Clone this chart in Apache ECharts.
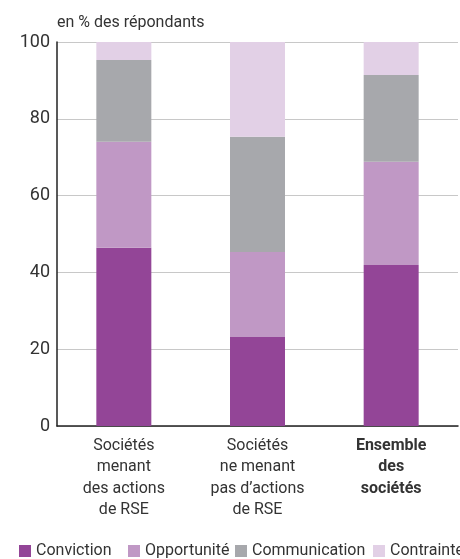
<!DOCTYPE html>
<html><head><meta charset="utf-8">
<script src="https://cdn.jsdelivr.net/npm/echarts@6/dist/echarts.min.js"></script>
<style>html,body{margin:0;padding:0;background:#fff}#c{width:460px;height:559px}</style>
</head><body><div id="c"></div>
<script>
var categories = ['Sociétés\nmenant\ndes actions\nde RSE', 'Sociétés\nne menant\npas d\u2019actions\nde RSE', 'Ensemble\ndes\nsociétés'];
var seriesNames = ['Conviction', 'Opportunité', 'Communication', 'Contrainte'];
var conviction = [46.4, 23.2, 41.9];
var opportunite = [27.6, 22.1, 26.9];
var communication = [21.3, 30.0, 22.6];
var contrainte = [4.7, 24.7, 8.6];
var yTicks = [0, 20, 40, 60, 80, 100];

var colors = ['#934597', '#C098C5', '#A7A8AC', '#E2D0E6'];
var values = [conviction, opportunite, communication, contrainte];
var FONT = 'Roboto, sans-serif';
var legendLefts = [19, 128, 235, 373];

var chart = echarts.init(document.getElementById('c'), null, {renderer: 'canvas'});
chart.setOption({
  animation: false,
  textStyle: {fontFamily: FONT},
  title: {
    text: 'en % des répondants', left: 57, top: 15, padding: 0,
    textStyle: {fontFamily: FONT, fontSize: 16, fontWeight: 'normal', color: '#333'}
  },
  legend: seriesNames.map(function (n, i) {
    return {
      data: [n], left: legendLefts[i], top: 543, itemWidth: 12, itemHeight: 12,
      itemGap: 0, icon: 'rect', padding: 0,
      textStyle: {fontFamily: FONT, fontSize: 16, color: '#333'}
    };
  }),
  grid: {left: 57, right: 2, top: 42, bottom: 133, containLabel: false},
  xAxis: {
    type: 'category', data: categories,
    axisLine: {show: true, lineStyle: {color: '#222', width: 1.5}},
    axisTick: {show: false},
    axisLabel: {
      interval: 0, margin: 9, color: '#333', fontFamily: FONT, fontSize: 16, lineHeight: 21.5,
      formatter: function (v, i) { return i === 2 ? '{b|' + v + '}' : v; },
      rich: {b: {fontWeight: 'bold', fontFamily: FONT, fontSize: 16, lineHeight: 21.5, color: '#333'}}
    }
  },
  yAxis: {
    type: 'value', min: yTicks[0], max: yTicks[yTicks.length - 1], interval: 20,
    axisLine: {show: true, lineStyle: {color: '#222', width: 1.5}},
    axisTick: {show: false},
    splitLine: {show: true, lineStyle: {color: '#c8c8c8', width: 1}},
    axisLabel: {margin: 7, color: '#333', fontFamily: FONT, fontSize: 18}
  },
  series: seriesNames.map(function (n, i) {
    return {
      name: n, type: 'bar', stack: 'total', data: values[i], barWidth: 55,
      itemStyle: {color: colors[i]}
    };
  })
});
</script></body></html>
